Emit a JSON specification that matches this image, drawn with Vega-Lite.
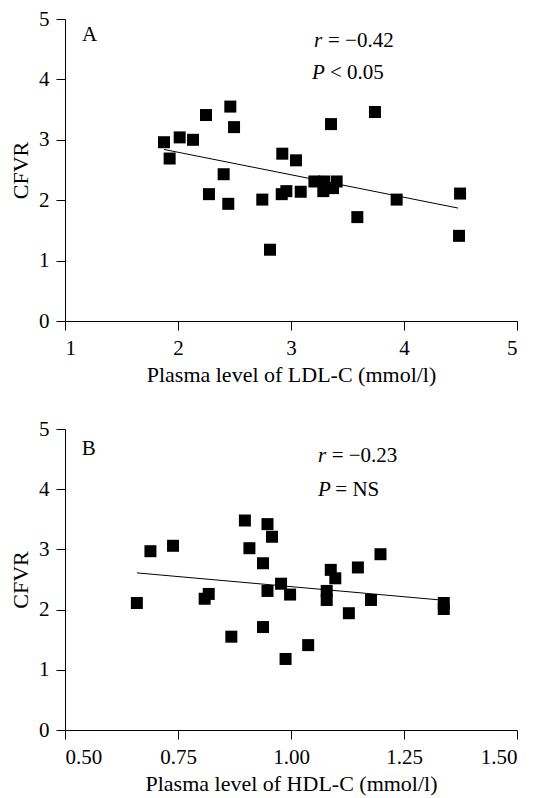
{
  "$schema": "https://vega.github.io/schema/vega-lite/v6.json",
  "background": "white",
  "padding": {"left": 9, "top": 8, "right": 5, "bottom": 5},
  "spacing": 33,
  "config": {
    "view": {"stroke": null},
    "font": "Liberation Serif",
    "axis": {
      "grid": false,
      "domainColor": "black",
      "tickColor": "black",
      "domainWidth": 1,
      "tickWidth": 1,
      "tickSize": 9,
      "labelFont": "Liberation Serif",
      "titleFont": "Liberation Serif",
      "labelFontSize": 21,
      "titleFontSize": 22,
      "titleFontWeight": "normal",
      "labelColor": "black",
      "titleColor": "black",
      "labelPadding": 7,
      "titlePadding": 6
    }
  },
  "datasets": {
    "ldl": [
      {"x": 1.876, "y": 2.96}, {"x": 1.926, "y": 2.69}, {"x": 2.015, "y": 3.04}, {"x": 2.133, "y": 3.00},
      {"x": 2.248, "y": 3.41}, {"x": 2.463, "y": 3.55}, {"x": 2.496, "y": 3.21}, {"x": 2.404, "y": 2.43},
      {"x": 2.274, "y": 2.10}, {"x": 2.445, "y": 1.94}, {"x": 2.746, "y": 2.01}, {"x": 2.814, "y": 1.18},
      {"x": 2.923, "y": 2.77}, {"x": 2.918, "y": 2.10}, {"x": 2.959, "y": 2.15}, {"x": 3.044, "y": 2.66},
      {"x": 3.086, "y": 2.14}, {"x": 3.207, "y": 2.31}, {"x": 3.292, "y": 2.31}, {"x": 3.286, "y": 2.15},
      {"x": 3.372, "y": 2.20}, {"x": 3.404, "y": 2.31}, {"x": 3.354, "y": 3.26}, {"x": 3.743, "y": 3.46},
      {"x": 3.587, "y": 1.72}, {"x": 3.935, "y": 2.01}, {"x": 4.496, "y": 2.11}, {"x": 4.487, "y": 1.41}
    ],
    "ldlFit": [{"x": 1.876, "y": 2.84}, {"x": 4.478, "y": 1.87}],
    "hdl": [
      {"x": 0.659, "y": 2.11}, {"x": 0.689, "y": 2.97}, {"x": 0.739, "y": 3.06}, {"x": 0.809, "y": 2.18},
      {"x": 0.818, "y": 2.26}, {"x": 0.868, "y": 1.55}, {"x": 0.898, "y": 3.48}, {"x": 0.908, "y": 3.02},
      {"x": 0.938, "y": 2.77}, {"x": 0.938, "y": 1.71}, {"x": 0.948, "y": 3.42}, {"x": 0.958, "y": 3.21},
      {"x": 0.948, "y": 2.31}, {"x": 0.978, "y": 2.43}, {"x": 0.998, "y": 2.25}, {"x": 0.988, "y": 1.18},
      {"x": 1.038, "y": 1.41}, {"x": 1.079, "y": 2.31}, {"x": 1.079, "y": 2.16}, {"x": 1.088, "y": 2.66},
      {"x": 1.098, "y": 2.52}, {"x": 1.128, "y": 1.94}, {"x": 1.148, "y": 2.70}, {"x": 1.177, "y": 2.16},
      {"x": 1.198, "y": 2.92}, {"x": 1.338, "y": 2.11}, {"x": 1.338, "y": 2.01}
    ],
    "hdlFit": [{"x": 0.659, "y": 2.61}, {"x": 1.345, "y": 2.15}]
  },
  "vconcat": [
    {
      "width": 452,
      "height": 302,
      "layer": [
        {
          "data": {"name": "ldlFit"},
          "mark": {"type": "line", "color": "black", "strokeWidth": 1},
          "encoding": {
            "x": {"field": "x", "type": "quantitative", "scale": {"domain": [1, 5], "nice": false, "zero": false},
                  "axis": {"values": [1, 2, 3, 4, 5], "title": "Plasma level of LDL-C (mmol/l)", "format": "d"}},
            "y": {"field": "y", "type": "quantitative", "scale": {"domain": [0, 5], "nice": false},
                  "axis": {"values": [0, 1, 2, 3, 4, 5], "title": "CFVR", "format": "d"}}
          }
        },
        {
          "data": {"name": "ldl"},
          "mark": {"type": "point", "shape": "square", "filled": true, "color": "black", "opacity": 1, "size": 144},
          "encoding": {
            "x": {"field": "x", "type": "quantitative"},
            "y": {"field": "y", "type": "quantitative"}
          }
        },
        {
          "data": {"values": [
            {"label": "A", "lx": 1.15, "ly": 4.64},
            {"label": "= −0.42", "lx": 3.327, "ly": 4.54},
            {"label": "< 0.05", "lx": 3.345, "ly": 4.01}
          ]},
          "mark": {"type": "text", "align": "left", "baseline": "alphabetic", "fontSize": 21, "font": "Liberation Serif", "color": "black"},
          "encoding": {
            "x": {"field": "lx", "type": "quantitative"},
            "y": {"field": "ly", "type": "quantitative"},
            "text": {"field": "label"}
          }
        },
        {
          "data": {"values": [
            {"label": "r", "lx": 3.204, "ly": 4.54},
            {"label": "P", "lx": 3.186, "ly": 4.01}
          ]},
          "mark": {"type": "text", "align": "left", "baseline": "alphabetic", "fontSize": 21, "fontStyle": "italic", "font": "Liberation Serif", "color": "black"},
          "encoding": {
            "x": {"field": "lx", "type": "quantitative"},
            "y": {"field": "ly", "type": "quantitative"},
            "text": {"field": "label"}
          }
        }
      ]
    },
    {
      "width": 452,
      "height": 301,
      "layer": [
        {
          "data": {"name": "hdlFit"},
          "mark": {"type": "line", "color": "black", "strokeWidth": 1},
          "encoding": {
            "x": {"field": "x", "type": "quantitative", "scale": {"domain": [0.5, 1.5], "nice": false, "zero": false},
                  "axis": {"values": [0.5, 0.75, 1, 1.25, 1.5], "title": "Plasma level of HDL-C (mmol/l)", "format": ".2f"}},
            "y": {"field": "y", "type": "quantitative", "scale": {"domain": [0, 5], "nice": false},
                  "axis": {"values": [0, 1, 2, 3, 4, 5], "title": "CFVR", "format": "d"}}
          }
        },
        {
          "data": {"name": "hdl"},
          "mark": {"type": "point", "shape": "square", "filled": true, "color": "black", "opacity": 1, "size": 144},
          "encoding": {
            "x": {"field": "x", "type": "quantitative"},
            "y": {"field": "y", "type": "quantitative"}
          }
        },
        {
          "data": {"values": [
            {"label": "B", "lx": 0.537, "ly": 4.56},
            {"label": "= −0.23", "lx": 1.09, "ly": 4.45},
            {"label": "= NS", "lx": 1.098, "ly": 3.88}
          ]},
          "mark": {"type": "text", "align": "left", "baseline": "alphabetic", "fontSize": 21, "font": "Liberation Serif", "color": "black"},
          "encoding": {
            "x": {"field": "lx", "type": "quantitative"},
            "y": {"field": "ly", "type": "quantitative"},
            "text": {"field": "label"}
          }
        },
        {
          "data": {"values": [
            {"label": "r", "lx": 1.06, "ly": 4.45},
            {"label": "P", "lx": 1.06, "ly": 3.88}
          ]},
          "mark": {"type": "text", "align": "left", "baseline": "alphabetic", "fontSize": 21, "fontStyle": "italic", "font": "Liberation Serif", "color": "black"},
          "encoding": {
            "x": {"field": "lx", "type": "quantitative"},
            "y": {"field": "ly", "type": "quantitative"},
            "text": {"field": "label"}
          }
        }
      ]
    }
  ]
}
